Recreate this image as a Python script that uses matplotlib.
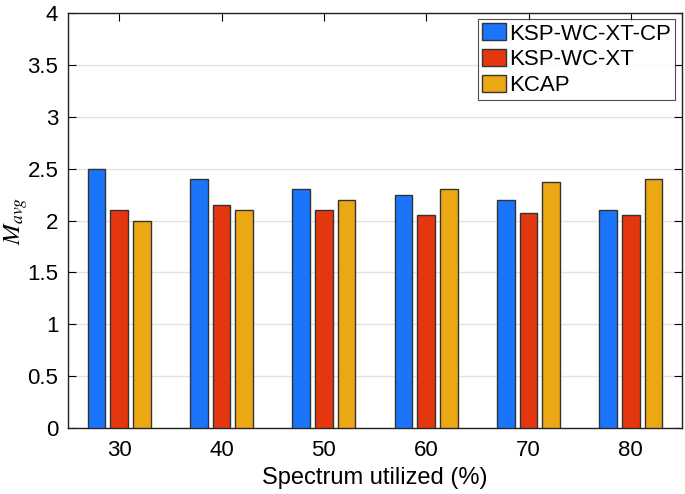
import matplotlib.pyplot as plt
import numpy as np

plt.rcParams['font.family'] = ['Liberation Sans', 'DejaVu Sans']
plt.rcParams['mathtext.fontset'] = 'stix'

categories = ['30', '40', '50', '60', '70', '80']
ksp_wc_xt_cp = [2.50, 2.40, 2.30, 2.25, 2.20, 2.10]
ksp_wc_xt = [2.10, 2.15, 2.10, 2.05, 2.07, 2.05]
kcap = [2.00, 2.10, 2.20, 2.30, 2.37, 2.40]

series = [
    ('KSP-WC-XT-CP', ksp_wc_xt_cp, '#1a75fa'),
    ('KSP-WC-XT', ksp_wc_xt, '#e5370f'),
    ('KCAP', kcap, '#eca814'),
]

fig = plt.figure(figsize=(6.85, 4.94), dpi=100)
ax = fig.add_axes([68/685, 1 - 428/494, (682-68)/685, (428-13)/494])

x = np.arange(1, len(categories) + 1)
w = 0.172
step = 0.222
for i, (name, vals, col) in enumerate(series):
    ax.bar(x + (i - 1) * step, vals, w, color=col, edgecolor='#333333',
           linewidth=1.0, label=name, zorder=3)

ax.set_xlim(0.5, 6.5)
ax.set_ylim(0, 4)
ax.set_xticks(x)
ax.set_xticklabels(categories)
ax.set_yticks(np.arange(0, 4.01, 0.5))
ax.set_yticklabels(['0', '0.5', '1', '1.5', '2', '2.5', '3', '3.5', '4'])
ax.yaxis.grid(True, color='#e3e3e3', linewidth=1.0, zorder=0)
ax.tick_params(direction='in', top=True, right=True, labelsize=16, length=6,
               width=0.8)
ax.tick_params(axis='x', pad=9)
ax.tick_params(axis='y', pad=7)
for s in ax.spines.values():
    s.set_linewidth(1.0)
    s.set_color('#222222')

ax.set_xlabel('Spectrum utilized (%)', fontsize=17, labelpad=4)
ax.set_ylabel('$M_{avg}$', fontsize=18)
ax.yaxis.set_label_coords(-0.062, 0.5)

leg = ax.legend(loc='upper right', bbox_to_anchor=(675/685, 1 - 19/494),
                bbox_transform=fig.transFigure, fontsize=16,
                frameon=True, fancybox=False, edgecolor='#222222',
                handlelength=1.1, handleheight=0.8, handletextpad=0.1,
                borderpad=0.2, labelspacing=0.2, borderaxespad=0.0)
leg.get_frame().set_linewidth(0.8)

fig.savefig('out.png', dpi=100)
